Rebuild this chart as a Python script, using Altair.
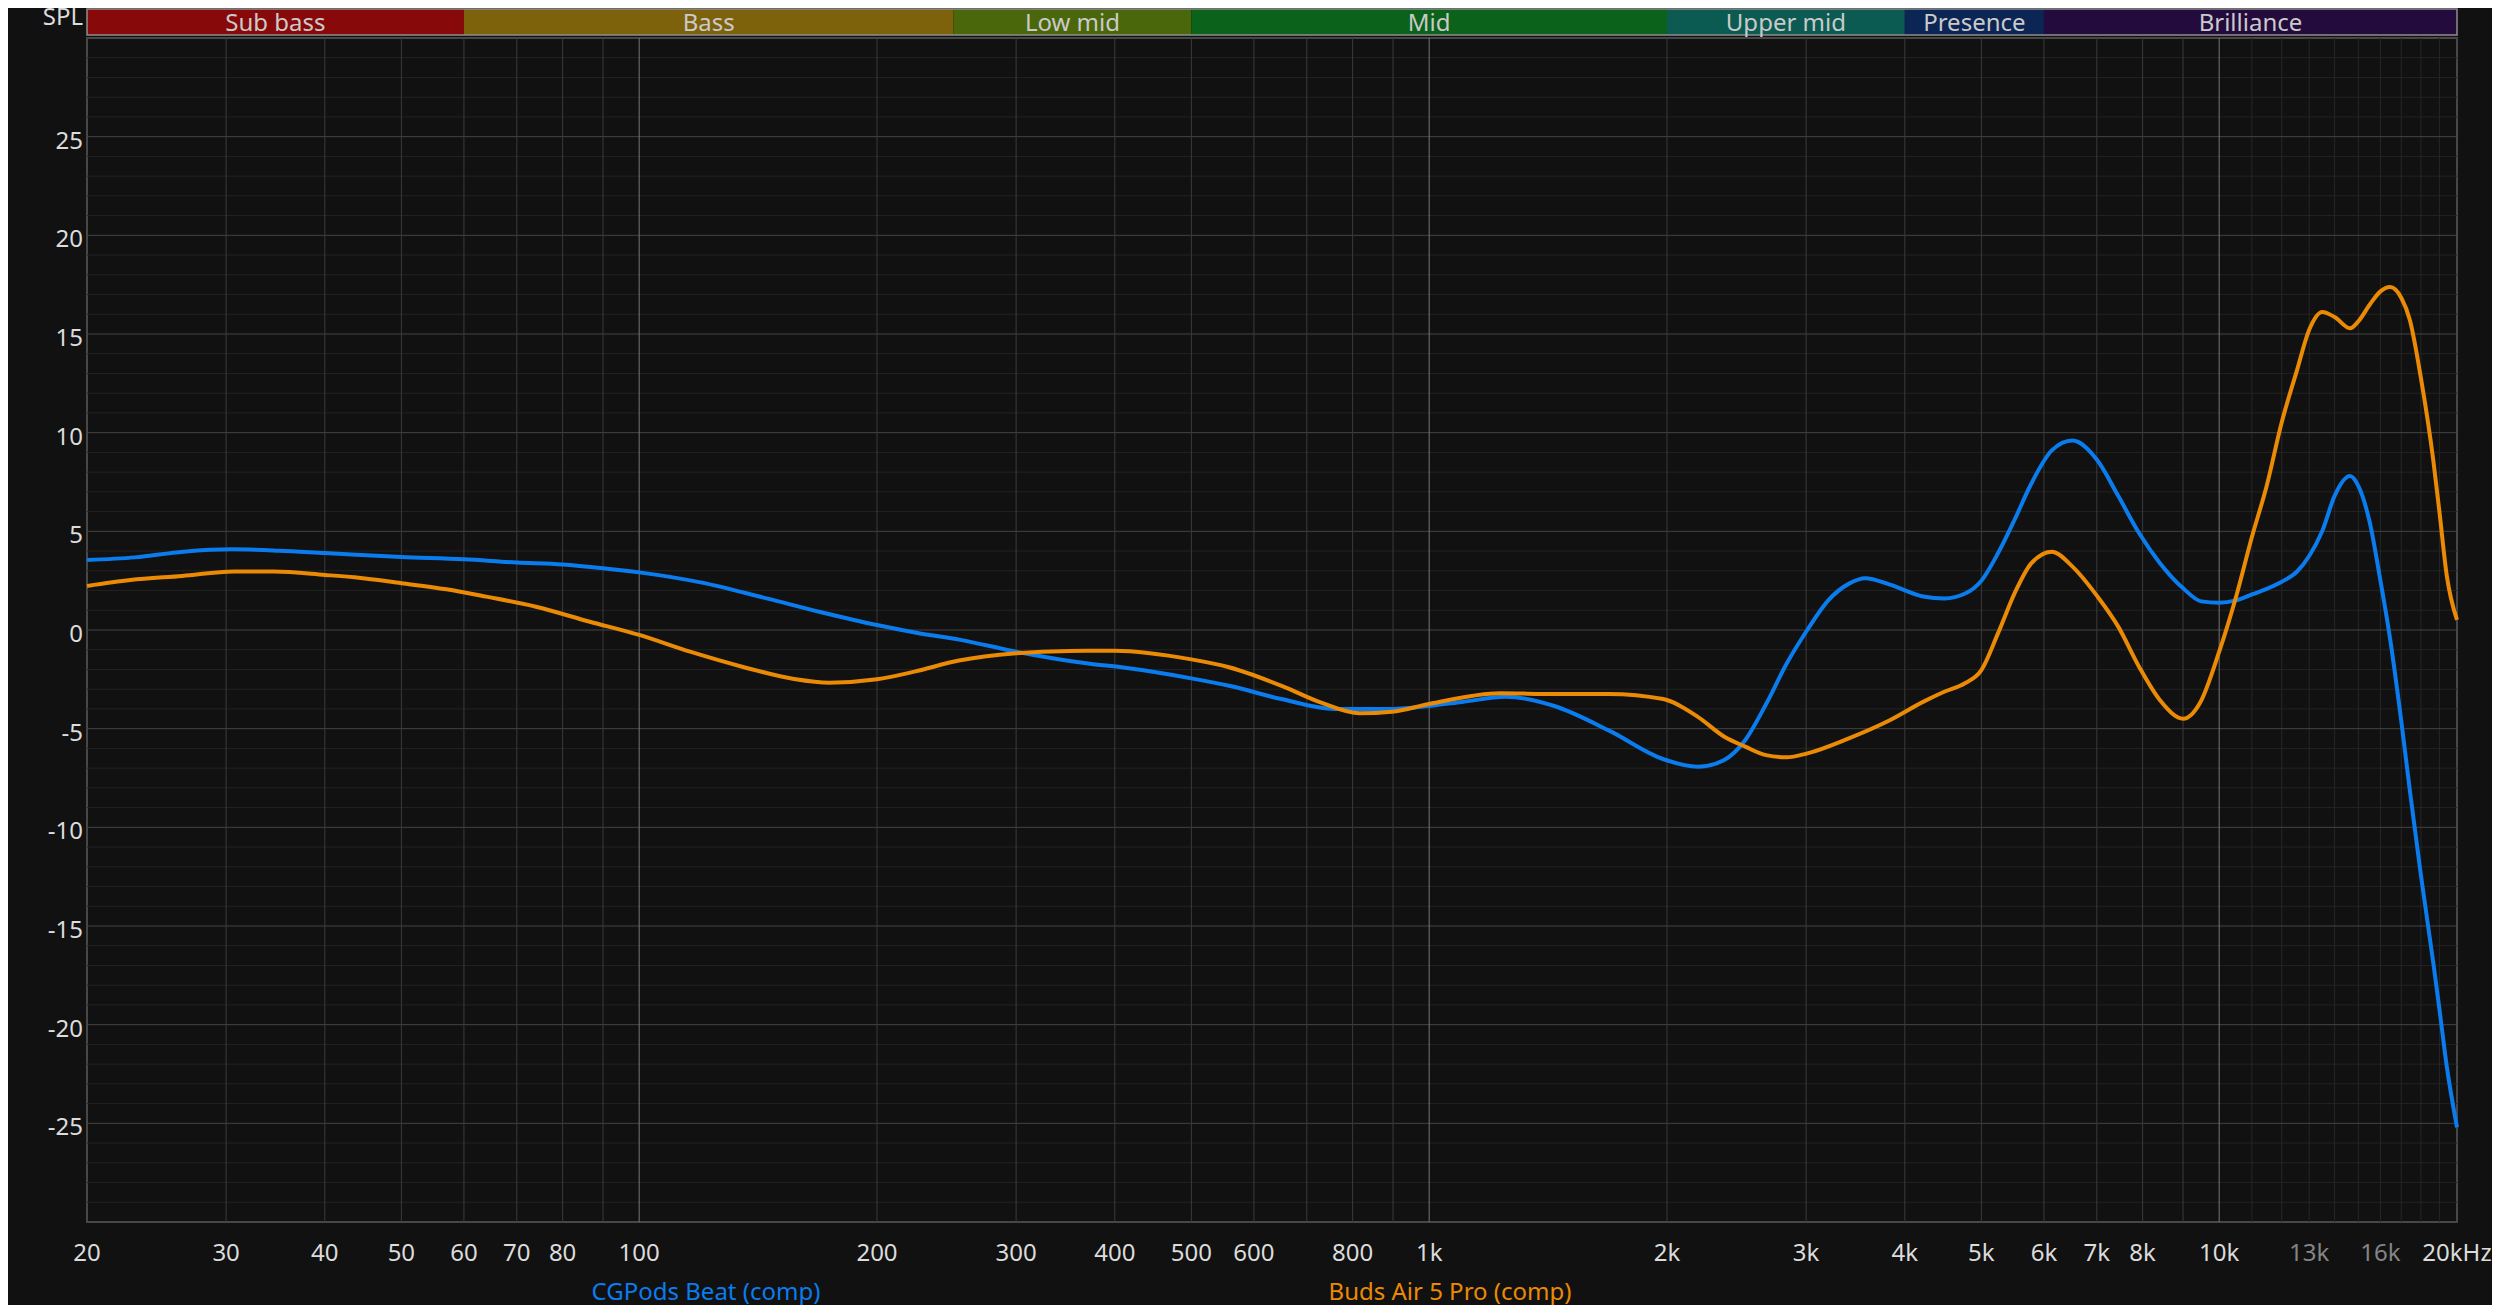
import altair as alt
import pandas as pd

# ---------------- data ----------------
blue_freq = [20, 23, 26.5, 30.5, 35, 40, 50, 60, 70, 80, 90, 100, 120, 145, 170, 200,
             225, 255, 300, 370, 410, 500, 560, 650, 760, 900, 1000, 1100, 1250, 1440,
             1690, 1980, 2190, 2360, 2510, 2670, 2835, 3010, 3200, 3400, 3565, 3830,
             4220, 4490, 4770, 5000, 5250, 5510, 5780, 6140, 6520, 7010, 7450, 7920,
             8410, 9010, 9490, 10000, 10500, 11000, 12000, 12540, 13000, 13500, 14000,
             14640, 15000, 15520, 16000, 16450, 17000, 17440, 18000, 18670, 19000,
             19410, 20000]
blue_db = [3.55, 3.68, 3.97, 4.09, 4.02, 3.9, 3.7, 3.58, 3.42, 3.32, 3.13, 2.92, 2.4,
           1.6, 0.9, 0.25, -0.15, -0.5, -1.1, -1.7, -1.9, -2.45, -2.84, -3.5, -4.0,
           -4.0, -3.85, -3.65, -3.38, -3.85, -5.1, -6.55, -6.93, -6.6, -5.6, -3.75,
           -1.7, 0.0, 1.5, 2.35, 2.62, 2.3, 1.7, 1.6, 1.85, 2.5, 3.9, 5.6, 7.4, 9.1,
           9.6, 8.6, 6.8, 4.9, 3.4, 2.1, 1.45, 1.38, 1.5, 1.8, 2.45, 2.95, 3.75, 5.0,
           6.8, 7.8, 7.3, 5.4, 2.5, -0.4, -4.6, -8.2, -12.4, -16.9, -19.2, -22.1,
           -25.2]

orange_freq = [20, 22.7, 26.4, 30.7, 34.5, 40, 43.6, 50, 57, 64, 74, 86.6, 100, 116,
               135, 157, 174, 200, 223, 254, 300, 350, 400, 500, 558, 654, 730, 816,
               897, 1000, 1229, 1441, 1688, 1978, 2186, 2364, 2512, 2669, 2835, 3011,
               3398, 3834, 4224, 4487, 4766, 5000, 5248, 5508, 5782, 6141, 6521, 7015,
               7451, 7917, 8411, 9009, 9458, 10000, 10524, 11000, 11484, 12000, 12536,
               13000, 13506, 14000, 14642, 15000, 15522, 16000, 16454, 17000, 17436,
               18000, 18666, 19000, 19410, 20000]
orange_db = [2.23, 2.53, 2.74, 2.97, 2.96, 2.79, 2.67, 2.37, 2.06, 1.69, 1.18, 0.42,
             -0.25, -1.1, -1.86, -2.48, -2.67, -2.5, -2.11, -1.55, -1.18, -1.06, -1.05,
             -1.49, -1.89, -2.87, -3.68, -4.22, -4.14, -3.75, -3.21, -3.24, -3.24,
             -3.5, -4.39, -5.41, -5.91, -6.34, -6.45, -6.25, -5.49, -4.56, -3.63,
             -3.13, -2.7, -2.03, -0.17, 1.86, 3.38, 3.97, 3.21, 1.69, 0.17, -1.86,
             -3.55, -4.5, -3.69, -1.1, 1.8, 4.71, 7.3, 10.53, 13.12, 15.22, 16.12,
             15.86, 15.29, 15.64, 16.51, 17.16, 17.38, 16.84, 15.7, 12.79, 8.59, 6.0,
             2.77, 0.51]

series_names = ["CGPods Beat (comp)", "Buds Air 5 Pro (comp)"]

band_names = ["Sub bass", "Bass", "Low mid", "Mid", "Upper mid", "Presence", "Brilliance"]
band_start = [20, 60, 250, 500, 2000, 4000, 6000]
band_end = [60, 250, 500, 2000, 4000, 6000, 20000]

x_ticks = [20, 30, 40, 50, 60, 70, 80, 100, 200, 300, 400, 500, 600, 800, 1000, 2000,
           3000, 4000, 5000, 6000, 7000, 8000, 10000, 13000, 16000, 20000]
x_tick_labels = ["20", "30", "40", "50", "60", "70", "80", "100", "200", "300", "400",
                 "500", "600", "800", "1k", "2k", "3k", "4k", "5k", "6k", "7k", "8k",
                 "10k", "13k", "16k", "20kHz"]
y_ticks = [-25, -20, -15, -10, -5, 0, 5, 10, 15, 20, 25]
y_tick_labels = ["-25", "-20", "-15", "-10", "-5", "0", "5", "10", "15", "20", "25"]
y_unit = "SPL"

vgrid_bright = [100, 1000, 10000]
vgrid_normal = [30, 40, 50, 60, 70, 80, 90, 200, 300, 400, 500, 600, 700, 800, 900,
                2000, 3000, 4000, 5000, 6000, 7000, 8000, 9000]
vgrid_dim = [11000, 12000, 13000, 14000, 15000, 16000, 17000, 18000, 19000]
hgrid_major = [-25, -20, -15, -10, -5, 0, 5, 10, 15, 20, 25]
hgrid_minor = [v for v in range(-29, 30) if v % 5 != 0]

# ---------------- style ----------------
W, H = 2370, 1184
FONT = "Noto Sans"
FS = 24
BLUE = "#0b7cee"
ORANGE = "#ea8a05"
LABEL = "#dcdcdc"
BAND_COLORS = ["#880909", "#7e610b", "#4a670b", "#0b621b", "#0b5b52", "#0b2555", "#230b3d"]

xs = alt.Scale(type="log", domain=[20, 20000], nice=False)
ys = alt.Scale(domain=[-30, 30], nice=False, zero=False)

blue_df = pd.DataFrame({"f": blue_freq, "db": blue_db})
orange_df = pd.DataFrame({"f": orange_freq, "db": orange_db})
band_df = pd.DataFrame({"name": band_names, "start": band_start, "end": band_end,
                        "color": BAND_COLORS})
xlab_df = pd.DataFrame({"f": x_ticks, "lab": x_tick_labels})
ylab_df = pd.DataFrame({"db": y_ticks, "lab": y_tick_labels})


def vrules(vals, color):
    return alt.Chart(pd.DataFrame({"f": vals})).mark_rule(
        color=color, strokeWidth=1).encode(x=alt.X("f:Q", scale=xs, axis=None))


def hrules(vals, color):
    return alt.Chart(pd.DataFrame({"db": vals})).mark_rule(
        color=color, strokeWidth=1).encode(y=alt.Y("db:Q", scale=ys, axis=None))


bands = alt.Chart(band_df).mark_rect().encode(
    x=alt.X("start:Q", scale=xs, axis=None), x2="end:Q",
    y=alt.value(-29), y2=alt.value(-3),
    fill=alt.Color("color:N", scale=None))

band_outline = alt.Chart(pd.DataFrame({"k": [0]})).mark_rect(
    filled=False, stroke="#8e8e8e", strokeWidth=1.5).encode(
    x=alt.value(0), x2=alt.value(W), y=alt.value(-29), y2=alt.value(-3))

band_text = alt.Chart(band_df).transform_calculate(
    mid="sqrt(datum.start * datum.end)").mark_text(
    font=FONT, fontSize=FS, color="#cacaca", baseline="alphabetic", align="center").encode(
    x=alt.X("mid:Q", scale=xs, axis=None), y=alt.value(-7), text="name:N")

blue_line = alt.Chart(blue_df).mark_line(
    color=BLUE, strokeWidth=4, interpolate="monotone").encode(
    x=alt.X("f:Q", scale=xs, axis=None),
    y=alt.Y("db:Q", scale=ys, axis=None))

orange_line = alt.Chart(orange_df).mark_line(
    color=ORANGE, strokeWidth=4, interpolate="monotone").encode(
    x=alt.X("f:Q", scale=xs, axis=None),
    y=alt.Y("db:Q", scale=ys, axis=None))

x_labels = alt.Chart(xlab_df).mark_text(
    font=FONT, fontSize=FS, align="center", baseline="middle").encode(
    x=alt.X("f:Q", scale=xs, axis=None), y=alt.value(H + 32), text="lab:N",
    color=alt.condition("datum.f == 13000 || datum.f == 16000",
                        alt.value("#858585"), alt.value(LABEL)))

y_labels = alt.Chart(ylab_df).mark_text(
    font=FONT, fontSize=FS, align="right", baseline="middle", dy=5, color=LABEL).encode(
    y=alt.Y("db:Q", scale=ys, axis=None), x=alt.value(-4), text="lab:N")

spl = alt.Chart(pd.DataFrame({"t": [y_unit]})).mark_text(
    font=FONT, fontSize=FS, color=LABEL, align="right", baseline="middle").encode(
    x=alt.value(-4), y=alt.value(-20), text="t:N")

leg1 = alt.Chart(pd.DataFrame({"t": [series_names[0]]})).mark_text(
    font=FONT, fontSize=FS, color=BLUE, align="center", baseline="middle").encode(
    x=alt.value(619), y=alt.value(1255), text="t:N")

leg2 = alt.Chart(pd.DataFrame({"t": [series_names[1]]})).mark_text(
    font=FONT, fontSize=FS, color=ORANGE, align="center", baseline="middle").encode(
    x=alt.value(1363), y=alt.value(1255), text="t:N")

chart = alt.layer(
    hrules(hgrid_minor, "#232323"),
    vrules(vgrid_dim, "#262626"),
    hrules(hgrid_major, "#444444"),
    vrules(vgrid_normal, "#3b3b3b"),
    vrules(vgrid_bright, "#767676"),
    bands, band_outline, band_text,
    blue_line, orange_line,
    x_labels, y_labels, spl, leg1, leg2,
).properties(
    width=W, height=H,
    autosize=alt.AutoSizeParams(type="none"),
    padding={"left": 79, "top": 30, "right": 35, "bottom": 83},
).configure(
    background="#111111",
).configure_view(
    stroke="#474747", strokeWidth=2,
)

chart.save("out.html", embed_options={"renderer": "svg", "actions": False})
